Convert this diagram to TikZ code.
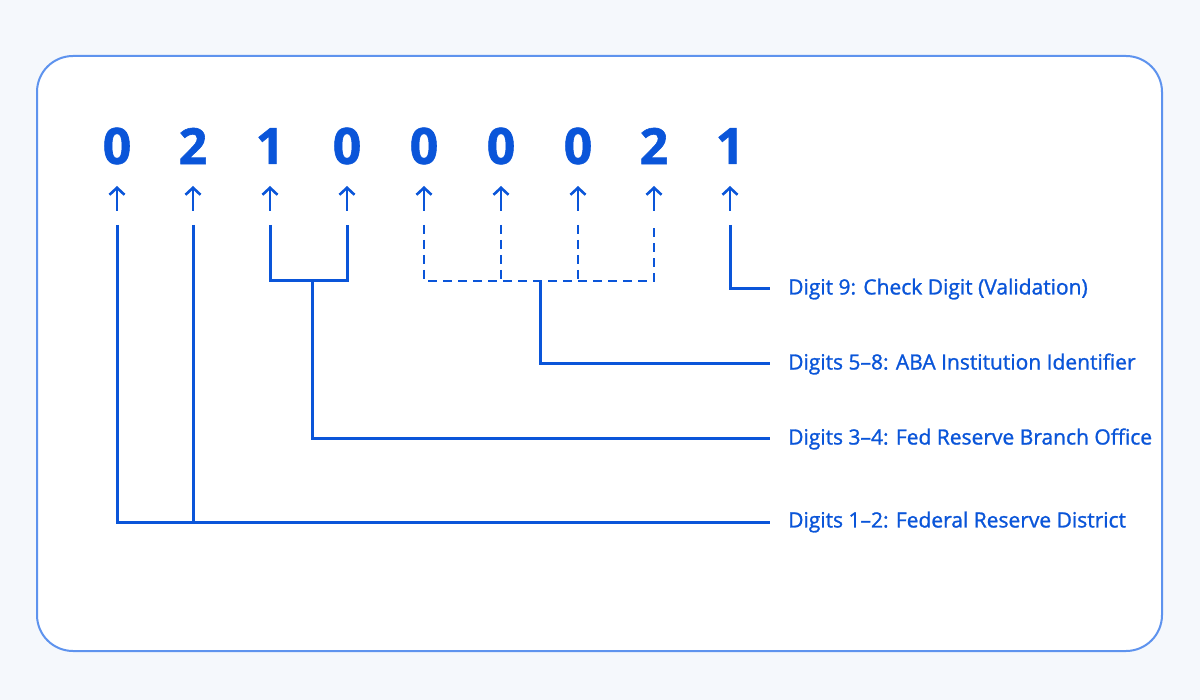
\documentclass[tikz,border=0pt]{standalone}
\usetikzlibrary{arrows.meta}
\usepackage{fontspec}
\setmainfont{Open Sans}[FakeBold=1.2]
\definecolor{bl}{HTML}{0A55D9}
\definecolor{fr}{HTML}{5E93EE}
\definecolor{bg}{HTML}{F5F8FC}
\begin{document}
\begin{tikzpicture}[x=1pt,y=-1pt,
  dig/.style={text=bl,font=\fontsize{50}{52}\selectfont\bfseries,anchor=center,inner sep=0},
  lab/.style={text=bl,font=\fontsize{21}{24}\selectfont,anchor=west,inner sep=0},
  ln/.style={draw=bl,line width=3pt},
  dl/.style={ln,line width=2.6pt,dash pattern=on 9pt off 6pt},
  up/.style={draw=bl,line width=2.6pt,-{Straight Barb[length=7pt,width=15pt,line width=2.6pt]}}]
\fill[bg] (0,0) rectangle (1200,700);
\useasboundingbox (0,0) rectangle (1200,700);
\draw[fr,line width=2pt,fill=white,rounded corners=36pt] (37,56) rectangle (1162,651);
\foreach \d/\x [count=\i] in {0/117,2/193,1/270,0/347,0/424,0/501,0/578,2/654,1/730}{
  \node[dig] (d\i) at (\x,146) {\d};
  \coordinate (a\i) at (\x,211);
  \coordinate (b\i) at (\x,186);
  \draw[up] (a\i) -- (b\i);
  \coordinate (t\i) at (\x,225);
}
\node[lab] (l9) at (788,289) {Digit 9: Check Digit (Validation)};
\node[lab] (l58) at (788,364) {Digits 5–8: ABA Institution Identifier};
\node[lab] (l34) at (788,439) {Digits 3–4: Fed Reserve Branch Office};
\node[lab] (l12) at (788,522) {Digits 1–2: Federal Reserve District};
% digit 9
\draw[ln] (t9) |- ([xshift=-18pt]l9.west);
% 5-8
\draw[dl] (t5) -- (424,281) -- (654,281) -- (t8);
\draw[dl] (t6) -- (501,281);
\draw[dl] (t7) -- (578,281);
\draw[ln] (540,281) |- ([xshift=-18pt]l58.west);
% 3-4
\draw[ln] (t3) -- (270,281) -- (347,281) -- (t4);
\draw[ln] (312,281) |- ([xshift=-18pt]l34.west);
% 1-2
\draw[ln] (t1) |- ([xshift=-18pt]l12.west);
\draw[ln] (t2) -- (193,522);
\end{tikzpicture}
\end{document}
